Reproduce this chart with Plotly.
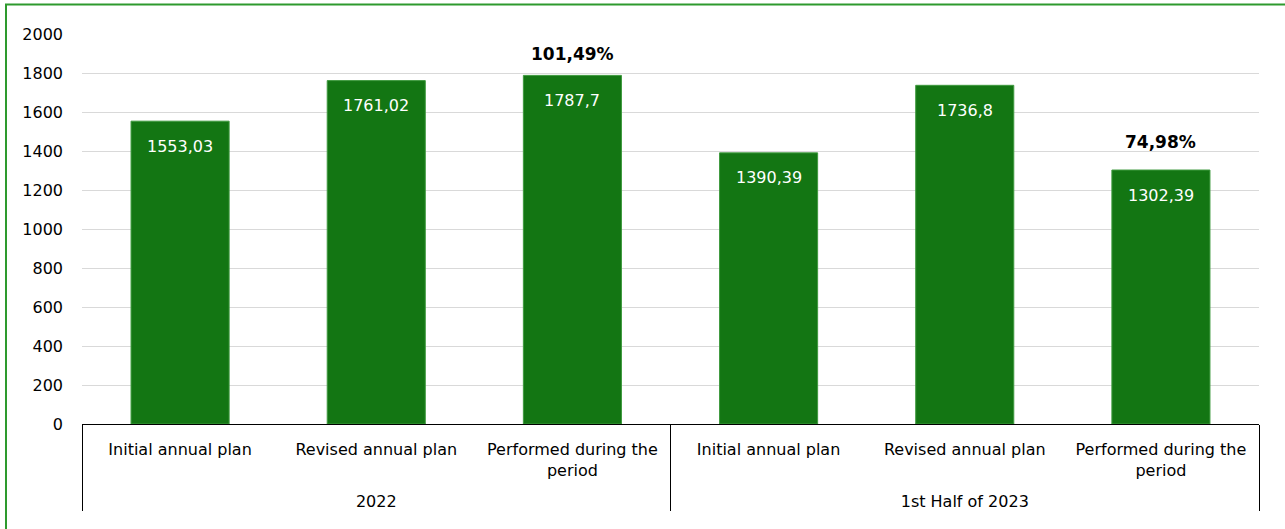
import plotly.graph_objects as go

groups = ["2022", "2022", "2022", "1st Half of 2023", "1st Half of 2023", "1st Half of 2023"]
stages = ["Initial annual plan", "Revised annual plan", "Performed during the<br>period",
          "Initial annual plan", "Revised annual plan", "Performed during the<br>period"]
values = [1553.03, 1761.02, 1787.7, 1390.39, 1736.8, 1302.39]
value_labels = ["1553,03", "1761,02", "1787,7", "1390,39", "1736,8", "1302,39"]
pct_index = [2, 5]
pct_labels = ["101,49%", "74,98%"]

FONT = "DejaVu Sans"
GREEN = "#137613"

# outer group labels are pushed one line lower to match the reference layout
group_text = ["<br>" + g for g in groups]

fig = go.Figure()
fig.add_trace(go.Bar(
    x=[group_text, stages], y=values,
    marker=dict(color=GREEN, line=dict(color="#3f9a3f", width=1)),
    width=0.5, hoverinfo="skip",
))

for i, (v, t) in enumerate(zip(values, value_labels)):
    fig.add_annotation(x=i, y=v, text=t, showarrow=False,
                       xref="x", yref="y", yanchor="middle", yshift=-25,
                       font=dict(family=FONT, size=16, color="white"))

shifts = [21, 28]
for idx, lab, sh in zip(pct_index, pct_labels, shifts):
    fig.add_annotation(x=idx, y=values[idx], text="<b>" + lab + "</b>", showarrow=False,
                       xref="x", yref="y", yanchor="middle", yshift=sh,
                       font=dict(family=FONT, size=17, color="black"))

W, H = 1285, 529
L, R, T, B = 82, 26, 34, 105
pw, ph = W - L - R, H - T - B
def px2x(p): return (p - L) / pw
def py2y(p): return (H - B - p) / ph

fig.add_shape(type="rect", xref="paper", yref="paper",
              x0=px2x(6), x1=px2x(1300), y0=py2y(545), y1=py2y(4.5),
              line=dict(color="#2e9a2e", width=2), fillcolor="rgba(0,0,0,0)", layer="above")

fig.update_layout(
    width=W, height=H, margin=dict(l=L, r=R, t=T, b=B),
    paper_bgcolor="white", plot_bgcolor="white",
    showlegend=False, bargap=0.5,
    font=dict(family=FONT, size=16, color="black"),
    xaxis=dict(type="multicategory", showline=True, linecolor="black", linewidth=1,
               showdividers=True, dividercolor="black", dividerwidth=1,
               ticklabelstandoff=11,
               showgrid=False, tickfont=dict(family=FONT, size=16, color="black")),
    yaxis=dict(range=[0, 2000], dtick=200, showgrid=True, gridcolor="#d9d9d9", gridwidth=1,
               zeroline=False, showline=False, ticklabelstandoff=18,
               tickfont=dict(family=FONT, size=16, color="black")),
)

fig.write_html("out.html", config={"displayModeBar": False},
               post_script="document.body.style.margin='0px';")
